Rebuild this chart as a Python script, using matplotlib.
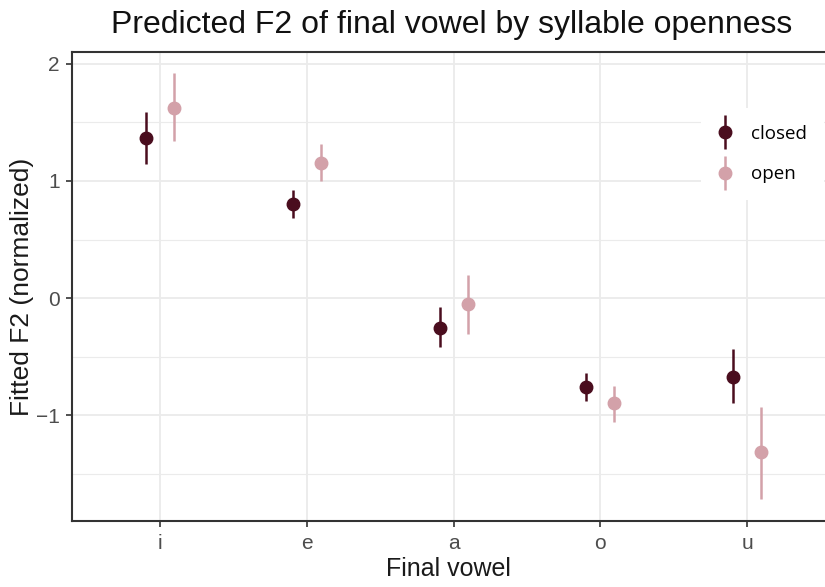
import matplotlib
matplotlib.use("Agg")
import matplotlib.pyplot as plt
import numpy as np
from matplotlib.ticker import MultipleLocator
from matplotlib.legend_handler import HandlerErrorbar
from matplotlib.container import ErrorbarContainer

vowels = ["i", "e", "a", "o", "u"]
closed_fit = [1.368, 0.80, -0.251, -0.76, -0.675]
closed_lo = [1.147, 0.681, -0.415, -0.88, -0.892]
closed_hi = [1.585, 0.927, -0.076, -0.64, -0.435]
open_fit = [1.622, 1.156, -0.053, -0.892, -1.31]
open_lo = [1.345, 0.997, -0.308, -1.056, -1.712]
open_hi = [1.919, 1.317, 0.195, -0.746, -0.929]

c_closed = "#4a0d1e"
c_open = "#d3a1a9"

plt.rcParams['font.family'] = ['Liberation Sans', 'DejaVu Sans']

fig = plt.figure(figsize=(8.25, 5.87), dpi=100)
ax = fig.add_axes([0.0873, 0.1124, 0.9127, 0.799])

x = np.arange(1, len(vowels) + 1)
dodge = 0.095

def draw(xs, fit, lo, hi, color, label):
    fit = np.array(fit); lo = np.array(lo); hi = np.array(hi)
    return ax.errorbar(xs, fit, yerr=[fit - lo, hi - fit], fmt='o', color=color,
                       ecolor=color, elinewidth=1.8, capsize=0, markersize=9,
                       label=label, zorder=3)

h1 = draw(x - dodge, closed_fit, closed_lo, closed_hi, c_closed, "closed")
h2 = draw(x + dodge, open_fit, open_lo, open_hi, c_open, "open")

ax.set_xlim(0.4, 5.53)
ax.set_ylim(-1.90, 2.10)
ax.set_xticks(x)
ax.set_xticklabels(vowels)
ax.yaxis.set_minor_locator(MultipleLocator(0.5))
ax.set_yticks([-1, 0, 1, 2])
ax.set_yticklabels(["\u22121", "0", "1", "2"])

ax.grid(True, which='major', color='#ebebeb', linewidth=1.3, zorder=0)
ax.grid(True, which='minor', axis='y', color='#ebebeb', linewidth=0.8, zorder=0)
ax.set_axisbelow(True)

for s in ['left', 'bottom', 'top']:
    ax.spines[s].set_color('#333333')
    ax.spines[s].set_linewidth(1.5)
ax.spines['right'].set_visible(False)

ax.tick_params(axis='both', which='major', length=4, width=1.2, color='#333333',
               labelcolor='#4d4d4d', labelsize=15, pad=5)
ax.tick_params(axis='y', which='minor', length=0)

ax.set_xlabel("Final vowel", fontsize=18, color='#1a1a1a', labelpad=3)
ax.set_ylabel("Fitted F2 (normalized)", fontsize=19, color='#1a1a1a', labelpad=1)
fig.text(0.548, 0.958, "Predicted F2 of final vowel by syllable openness",
         ha='center', va='center', fontsize=23, color='#111111')

leg = ax.legend(handles=[h1, h2], loc='upper left', bbox_to_anchor=(0.838, 0.832),
                bbox_transform=fig.transFigure, frameon=True, fancybox=False,
                edgecolor='none', facecolor='white', framealpha=1,
                prop={'family': 'Open Sans', 'size': 13.5}, handlelength=0.8,
                handletextpad=1.0, labelspacing=1.2, borderpad=0.9,
                handler_map={ErrorbarContainer: HandlerErrorbar(yerr_size=0.9)})

fig.savefig("out.png", dpi=100)
